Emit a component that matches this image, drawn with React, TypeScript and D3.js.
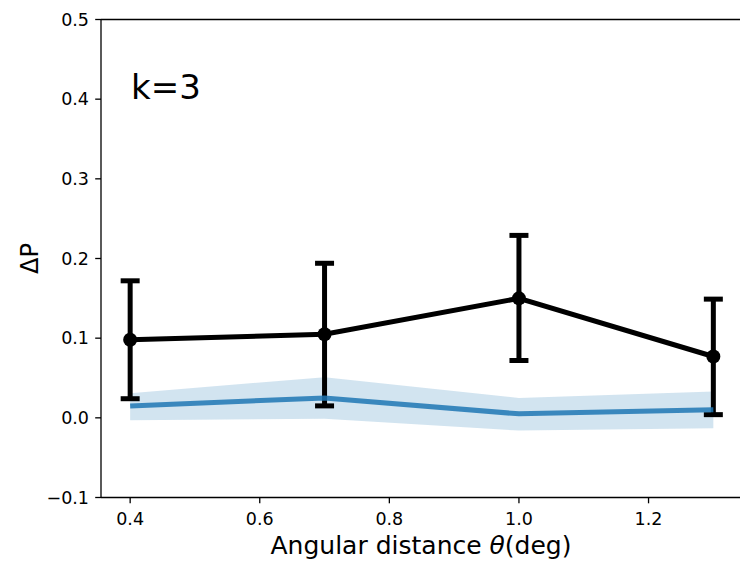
import { useEffect, useRef } from 'react';
import * as d3 from 'd3';

// angular distance (deg)
const thetas = [0.4, 0.7, 1.0, 1.3];
// measured delta P with error bars
const deltaP = [0.098, 0.105, 0.150, 0.077];
const errLow = [0.024, 0.015, 0.072, 0.004];
const errHigh = [0.172, 0.194, 0.229, 0.149];
// null model (blue) and its band
const nullMean = [0.015, 0.025, 0.005, 0.010];
const nullLow = [-0.003, -0.001, -0.016, -0.013];
const nullHigh = [0.031, 0.051, 0.025, 0.033];

const xTicks = [0.4, 0.6, 0.8, 1.0, 1.2];
const yTicks = [-0.1, 0.0, 0.1, 0.2, 0.3, 0.4, 0.5];

const W = 740;
const H = 561;
const FONT = 'DejaVu Sans, sans-serif';

const App = () => {
  const svgRef = useRef<SVGSVGElement>(null);

  useEffect(() => {
    const svg = d3.select(svgRef.current);
    svg.selectAll('*').remove();

    // right edge of the axes sits past the window, so no right spine is seen
    const left = 101, right = 742.5, top = 19.5, bottom = 497.5;

    const x = d3.scaleLinear().domain([0.355, 1.345]).range([left, right]);
    const y = d3.scaleLinear().domain([-0.1, 0.5]).range([bottom, top]);

    const rows = thetas.map((t, i) => ({
      t, v: deltaP[i], lo: errLow[i], hi: errHigh[i],
      m: nullMean[i], bl: nullLow[i], bh: nullHigh[i],
    }));

    // shaded band
    const area = d3.area<any>()
      .x(d => x(d.t))
      .y0(d => y(d.bl))
      .y1(d => y(d.bh));
    svg.append('path')
      .datum(rows)
      .attr('d', area)
      .attr('fill', '#1f77b4')
      .attr('fill-opacity', 0.2);

    // black line
    const line = d3.line<any>().x(d => x(d.t)).y(d => y(d.v));
    svg.append('path')
      .datum(rows)
      .attr('d', line)
      .attr('fill', 'none')
      .attr('stroke', '#000')
      .attr('stroke-width', 5);

    // error bars
    const eb = svg.append('g').attr('stroke', '#000').attr('stroke-width', 5);
    rows.forEach(d => {
      eb.append('line')
        .attr('x1', x(d.t)).attr('x2', x(d.t))
        .attr('y1', y(d.lo)).attr('y2', y(d.hi));
      [d.lo, d.hi].forEach(v => {
        eb.append('line')
          .attr('x1', x(d.t) - 9.5).attr('x2', x(d.t) + 9.5)
          .attr('y1', y(v)).attr('y2', y(v));
      });
    });

    svg.append('g')
      .selectAll('circle')
      .data(rows)
      .enter().append('circle')
      .attr('cx', d => x(d.t))
      .attr('cy', d => y(d.v))
      .attr('r', 7)
      .attr('fill', '#000');

    // blue null line
    const nline = d3.line<any>().x(d => x(d.t)).y(d => y(d.m));
    svg.append('path')
      .datum(rows)
      .attr('d', nline)
      .attr('fill', 'none')
      .attr('stroke', '#1f77b4')
      .attr('stroke-opacity', 0.85)
      .attr('stroke-width', 5);

    // spines (top, bottom, left)
    const frame = svg.append('g').attr('stroke', '#000').attr('stroke-width', 1.3);
    frame.append('line').attr('x1', left).attr('x2', W).attr('y1', top).attr('y2', top);
    frame.append('line').attr('x1', left).attr('x2', W).attr('y1', bottom).attr('y2', bottom);
    frame.append('line').attr('x1', left).attr('x2', left).attr('y1', top).attr('y2', bottom);

    // x ticks
    const xg = svg.append('g');
    xTicks.forEach(t => {
      xg.append('line')
        .attr('x1', x(t)).attr('x2', x(t))
        .attr('y1', bottom).attr('y2', bottom + 5.8)
        .attr('stroke', '#000').attr('stroke-width', 1.3);
      xg.append('text')
        .attr('x', x(t)).attr('y', bottom + 27)
        .attr('text-anchor', 'middle')
        .attr('font-family', FONT).attr('font-size', 17.5)
        .text(t.toFixed(1));
    });

    // y ticks
    const yg = svg.append('g');
    yTicks.forEach(t => {
      yg.append('line')
        .attr('x1', left - 5.8).attr('x2', left)
        .attr('y1', y(t)).attr('y2', y(t))
        .attr('stroke', '#000').attr('stroke-width', 1.3);
      yg.append('text')
        .attr('x', left - 12).attr('y', y(t) + 6.3)
        .attr('text-anchor', 'end')
        .attr('font-family', FONT).attr('font-size', 17.5)
        .text(t < 0 ? '\u2212' + Math.abs(t).toFixed(1) : t.toFixed(1));
    });

    // axis labels
    const xl = svg.append('text')
      .attr('x', 421).attr('y', 554)
      .attr('text-anchor', 'middle')
      .attr('font-family', FONT).attr('font-size', 25);
    xl.append('tspan').text('Angular distance ');
    xl.append('tspan').attr('font-style', 'italic').text('θ');
    xl.append('tspan').text('(deg)');

    svg.append('text')
      .attr('transform', `translate(38,${(top + bottom) / 2}) rotate(-90)`)
      .attr('text-anchor', 'middle')
      .attr('font-family', FONT).attr('font-size', 24)
      .text('ΔP');

    svg.append('text')
      .attr('x', 131).attr('y', 98.5)
      .attr('font-family', FONT).attr('font-size', 34)
      .text('k=3');
  }, []);

  return (
    <svg
      ref={svgRef}
      width={W}
      height={H}
      style={{ position: 'absolute', left: 0, top: 0, background: '#fff' }}
    />
  );
};

export default App;
